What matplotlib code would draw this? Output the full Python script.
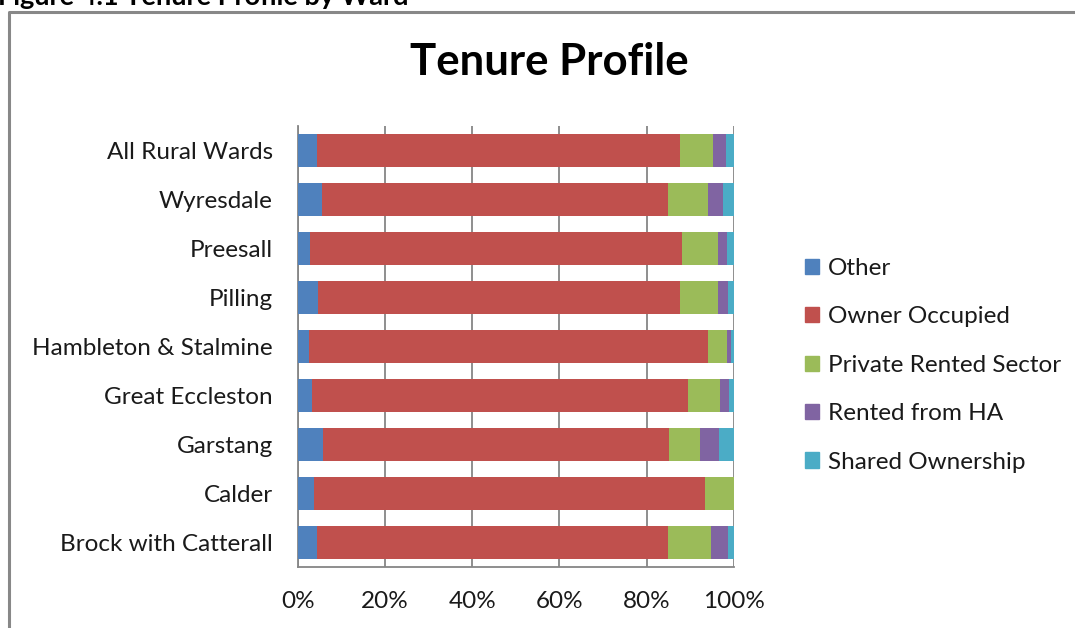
import matplotlib
matplotlib.use("Agg")
import matplotlib.pyplot as plt
from matplotlib.lines import Line2D
import numpy as np

plt.rcParams['font.family'] = ['Lato', 'DejaVu Sans']

categories = ["All Rural Wards", "Wyresdale", "Preesall", "Pilling",
              "Hambleton & Stalmine", "Great Eccleston", "Garstang",
              "Calder", "Brock with Catterall"]
series_names = ["Other", "Owner Occupied", "Private Rented Sector",
                "Rented from HA", "Shared Ownership"]
other = [4.4, 5.6, 2.9, 4.7, 2.7, 3.2, 5.9, 3.8, 4.4]
owner_occupied = [83.2, 79.3, 85.2, 82.9, 91.3, 86.4, 79.3, 89.6, 80.5]
private_rented = [7.6, 9.1, 8.2, 8.8, 4.5, 7.3, 7.1, 6.6, 10.0]
rented_ha = [3.0, 3.5, 2.2, 2.3, 0.9, 2.1, 4.4, 0.0, 3.8]
shared_ownership = [1.8, 2.5, 1.5, 1.3, 0.6, 1.0, 3.3, 0.0, 1.3]
x_ticks = [0, 20, 40, 60, 80, 100]
x_tick_labels = ["0%", "20%", "40%", "60%", "80%", "100%"]

colors = ["#4F81BD", "#C0504D", "#9BBB59", "#8064A2", "#4BACC6"]

W, H = 1075, 628
fig = plt.figure(figsize=(W / 100, H / 100), dpi=100)
ax = fig.add_axes([297.7 / W, 1 - 567 / H, 436 / W, 441 / H])

data = np.array([other, owner_occupied, private_rented, rented_ha, shared_ownership])
totals = data.sum(axis=0)
data = data / totals * 100
y = np.arange(len(categories))
left = np.zeros(len(categories))
for name, vals, c in zip(series_names, data, colors):
    ax.barh(y, vals, left=left, height=0.66, color=c, label=name, zorder=3)
    left += vals

FS = 17.5
ax.set_xlim(0, 100)
ax.set_ylim(len(categories) - 0.5, -0.5)
ax.set_yticks(y)
ax.set_yticklabels(categories, fontsize=FS, color="#1a1a1a")
ax.set_xticks(x_ticks)
ax.set_xticklabels(x_tick_labels, fontsize=FS, color="#1a1a1a")
ax.tick_params(axis="both", length=0)
ax.tick_params(axis="y", pad=18)
ax.tick_params(axis="x", pad=17)
ax.xaxis.grid(True, color="#868686", linewidth=1.3, zorder=0)
for s in ["top", "right"]:
    ax.spines[s].set_visible(False)
for s in ["left", "bottom"]:
    ax.spines[s].set_color("#868686")
    ax.spines[s].set_linewidth(1.3)

fig.text(549 / W, 1 - 62 / H, "Tenure Profile", fontsize=31.5, fontweight="bold",
         ha="center", va="center", color="#000000")

fig.text(-2 / W, 1 - 5 / H, "Figure 4.1 Tenure Profile by Ward", fontsize=19.5,
         fontweight="bold", ha="left", va="baseline", color="#000000")

# outer frame
fig.add_artist(Line2D([9 / W, 9 / W, 1.0], [0.0, 1 - 12 / H, 1 - 12 / H],
                      transform=fig.transFigure, color="#888888", linewidth=2.2))

handles = [plt.Rectangle((0, 0), 1, 1, color=c) for c in colors]
leg = fig.legend(handles, series_names, loc="upper left",
                 bbox_to_anchor=(783 / W, 1 - 236 / H), frameon=False,
                 fontsize=FS, handlelength=0.6, handleheight=0.6,
                 handletextpad=0.35, labelspacing=1.13)
for t in leg.get_texts():
    t.set_color("#1a1a1a")

fig.savefig("out.png", dpi=100)
